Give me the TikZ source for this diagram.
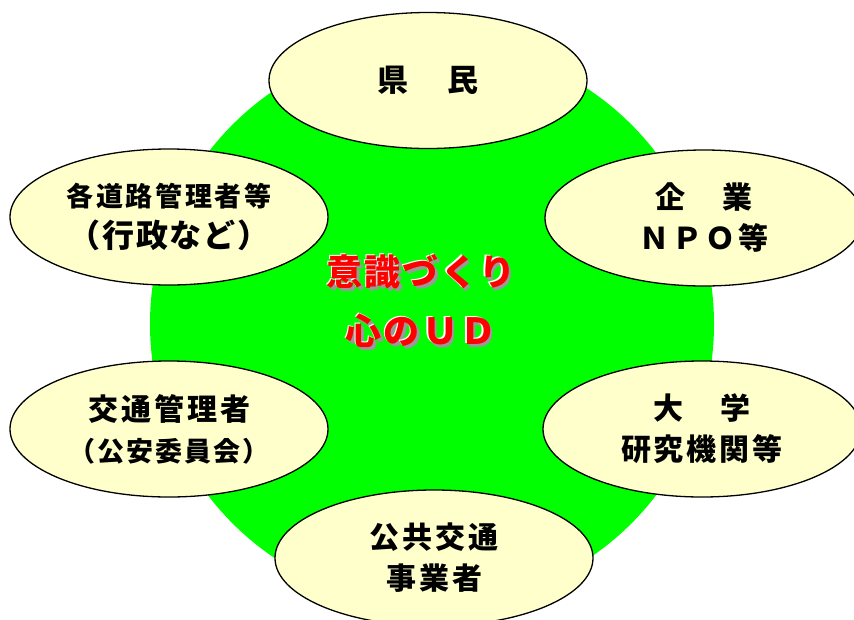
\documentclass[tikz,border=0pt]{standalone}
\usepackage{fontspec}
\usetikzlibrary{shapes.geometric}
\newfontfamily\jp{Noto Sans CJK JP}
\definecolor{bubfill}{HTML}{FFFFCC}
\definecolor{ringgreen}{HTML}{00FF00}
\definecolor{shade}{HTML}{9A9A9A}
\newcommand\tx[3]{{\fontsize{#1}{41}\selectfont\addfontfeature{LetterSpace=#2}#3}}
\tikzset{
  bub/.style={ellipse, draw=black, line width=1.3pt, fill=bubfill,
    minimum width=318pt, minimum height=136pt, inner sep=0pt,
    align=center, font=\jp\bfseries\fontsize{30}{41}\selectfont},
  core/.style={font=\jp\bfseries\fontsize{36}{36}\selectfont, inner sep=0pt},
}
\begin{document}
\begin{tikzpicture}[x=1pt,y=-1pt]
\clip (0,0) rectangle (854,619);
\fill[white] (0,0) rectangle (854,619);
\fill[ringgreen] (432,324) circle (282);
% centre texts
\node[core, text=shade] (t1s) at (423.5,274.5) {\addfontfeature{LetterSpace=6}意識づくり};
\node[core, text=white] (t1w) at (419.5,270.5) {\addfontfeature{LetterSpace=6}意識づくり};
\node[core, text=red] (t1) at (421,272) {\addfontfeature{LetterSpace=6}意識づくり};
\node[core, text=shade] (t2s) at (423.5,333.5) {\addfontfeature{LetterSpace=6}心のＵＤ};
\node[core, text=white] (t2w) at (419.5,329.5) {\addfontfeature{LetterSpace=6}心のＵＤ};
\node[core, text=red] (t2) at (421,331) {\addfontfeature{LetterSpace=6}心のＵＤ};
% bubbles
\node[bub] (kenmin) at (428,80.5) {\tx{31}{12}{県　民}};
\node[bub] (douro) at (169,217) {\tx{27}{10}{各道路管理者等}\\\tx{32}{6}{（行政など）}};
\node[bub] (kigyo) at (704,218) {\tx{30}{12}{企　業}\\\tx{30}{10}{ＮＰＯ等}};
\node[bub] (kotsu) at (169,429) {\tx{30}{10}{交通管理者}\\\tx{27}{8}{（公安委員会）}};
\node[bub] (daigaku) at (702,429) {\tx{30}{12}{大　学}\\\tx{30}{10}{研究機関等}};
\node[bub] (koukyou) at (434,558) {\tx{30}{10}{公共交通}\\\tx{30}{10}{事業者}};
\end{tikzpicture}
\end{document}
